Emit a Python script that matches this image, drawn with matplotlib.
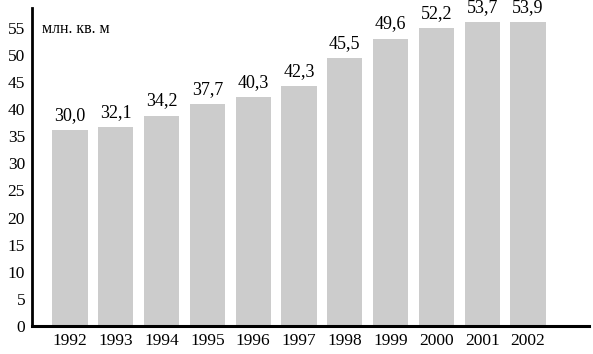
import numpy as np
import matplotlib.pyplot as plt

years = ["1992", "1993", "1994", "1995", "1996", "1997", "1998", "1999", "2000", "2001", "2002"]
# bar heights as drawn in the picture (they differ from the printed labels)
heights = [36.1, 36.6, 38.8, 41.0, 42.2, 44.2, 49.4, 53.0, 54.9, 56.0, 56.0]
labels = ["30,0", "32,1", "34,2", "37,7", "40,3", "42,3", "45,5", "49,6", "52,2", "53,7", "53,9"]
yticks = list(range(0, 56, 5))

plt.rcParams['font.family'] = ['Liberation Serif', 'DejaVu Serif']

fig = plt.figure(figsize=(5.93, 3.54), dpi=100)
ax = fig.add_axes([0.054, 0.079, 0.939, 0.898])

x = np.arange(len(years))
bars = ax.bar(x, heights, width=0.77, color="#cccccc")

for b, lab in zip(bars, labels):
    ax.text(b.get_x() + b.get_width() / 2, b.get_height() + 1.1, lab,
            ha="center", va="bottom", fontsize=13)

ax.set_xlim(-0.83, 11.33)
ax.set_ylim(0, 58.6)
ax.set_xticks(x)
ax.set_xticklabels(years, fontsize=12.5)
ax.set_yticks(yticks)
ax.set_yticklabels([str(t) for t in yticks], fontsize=12.5)
ax.tick_params(length=0, pad=5)

ax.spines["top"].set_visible(False)
ax.spines["right"].set_visible(False)
ax.spines["left"].set_linewidth(2)
ax.spines["bottom"].set_linewidth(2.2)

ax.text(0.018, 0.96, "млн. кв. м", transform=ax.transAxes, ha="left", va="top", fontsize=11.5)

fig.savefig("out.png", dpi=100)
